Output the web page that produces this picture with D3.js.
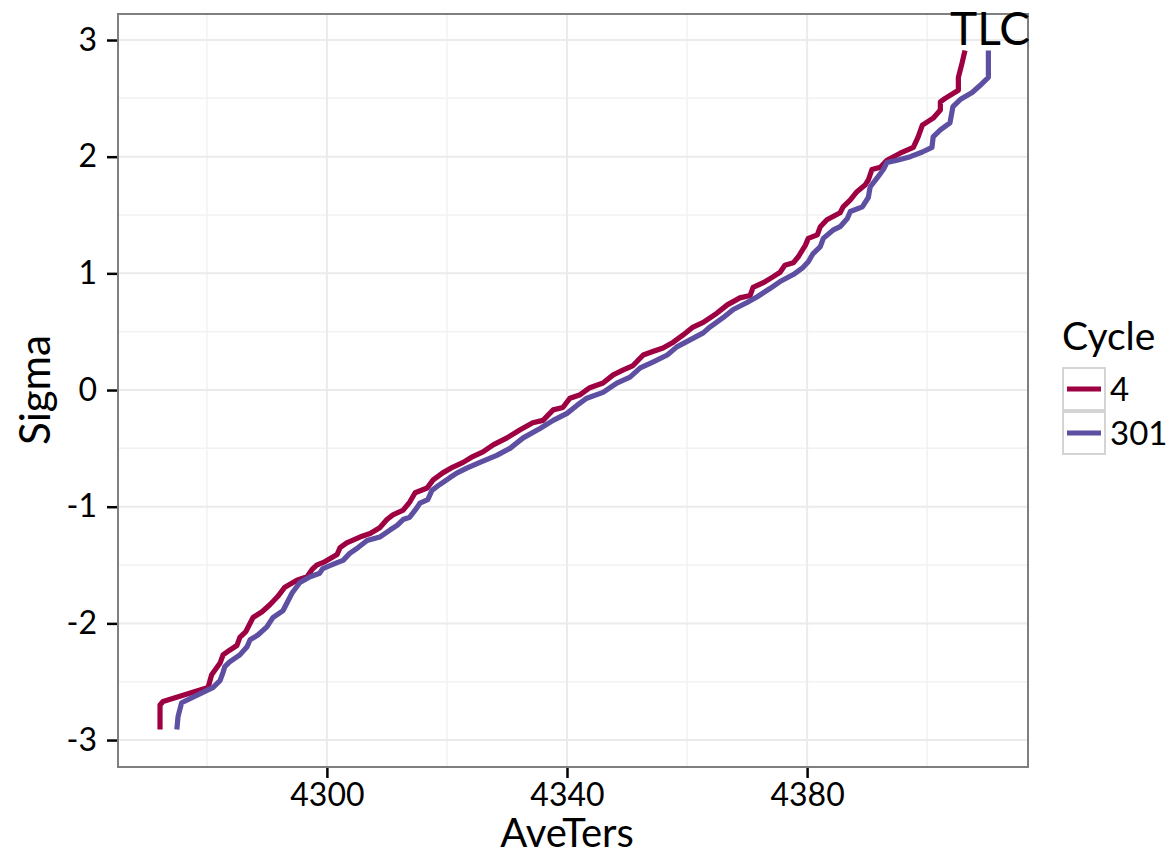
<!DOCTYPE html>
<html><head><meta charset="utf-8">
<script src="https://cdn.jsdelivr.net/npm/d3@7"></script>
<style>body{margin:0;background:#fff}svg{display:block}text{font-family:Lato,"Open Sans",sans-serif}</style>
</head><body><svg id="c" width="1176" height="856"></svg>
<script>
const seriesNames = ["4", "301"];
const seriesColors = ["#9E0142", "#5E4FA2"];
const cycle4X = [4272.2,4272.2,4272.7,4280.2,4280.8,4282.2,4282.7,4283.8,4285.0,4285.5,4286.5,4287.7,4289.2,4290.5,4291.8,4293.0,4295.0,4296.7,4297.5,4298.3,4299.7,4301.7,4302.2,4303.3,4305.5,4307.2,4308.8,4310.0,4311.0,4312.7,4313.8,4314.7,4316.7,4317.7,4319.3,4321.0,4322.7,4324.3,4326.0,4327.7,4330.0,4332.2,4334.3,4336.0,4337.7,4339.3,4340.5,4342.2,4343.8,4346.0,4347.7,4349.3,4351.0,4352.7,4354.3,4356.0,4357.7,4359.3,4361.0,4362.7,4365.0,4366.7,4368.8,4370.5,4371.0,4372.7,4374.3,4375.5,4376.3,4377.7,4378.5,4379.7,4380.2,4381.7,4382.2,4383.3,4385.5,4386.0,4387.2,4388.3,4389.7,4390.2,4390.8,4392.2,4393.3,4395.5,4397.7,4398.5,4399.2,4401.0,4402.2,4402.2,4403.0,4405.2,4405.2,4405.8,4406.3];
const cycle4Y = [-2.91,-2.70,-2.67,-2.55,-2.44,-2.34,-2.27,-2.23,-2.19,-2.12,-2.07,-1.95,-1.90,-1.84,-1.77,-1.69,-1.63,-1.60,-1.54,-1.50,-1.47,-1.41,-1.35,-1.31,-1.26,-1.23,-1.18,-1.11,-1.07,-1.03,-0.96,-0.88,-0.84,-0.77,-0.71,-0.66,-0.62,-0.57,-0.53,-0.47,-0.41,-0.34,-0.28,-0.26,-0.17,-0.15,-0.07,-0.04,0.02,0.06,0.13,0.17,0.21,0.30,0.33,0.36,0.41,0.47,0.54,0.58,0.66,0.73,0.79,0.81,0.88,0.92,0.97,1.01,1.07,1.09,1.14,1.24,1.30,1.33,1.40,1.46,1.52,1.57,1.63,1.70,1.76,1.80,1.89,1.91,1.97,2.03,2.08,2.17,2.27,2.33,2.40,2.47,2.50,2.57,2.68,2.80,2.91];
const cycle301X = [4275.0,4275.2,4275.8,4280.2,4281.0,4282.2,4282.7,4283.0,4283.8,4285.5,4286.7,4287.2,4288.5,4290.0,4291.0,4292.7,4293.3,4294.2,4295.5,4297.2,4298.8,4299.3,4301.7,4302.7,4303.8,4305.2,4306.7,4308.8,4310.5,4311.7,4312.7,4313.8,4314.7,4315.5,4316.8,4317.5,4318.8,4320.5,4321.7,4323.3,4325.5,4328.3,4330.5,4332.7,4335.5,4337.7,4340.0,4341.7,4343.3,4346.0,4348.3,4350.5,4352.2,4354.3,4356.7,4358.3,4360.5,4362.7,4363.8,4366.0,4367.7,4370.0,4371.7,4373.8,4375.5,4377.7,4379.3,4380.2,4381.0,4382.2,4382.7,4384.3,4385.5,4386.7,4387.2,4389.2,4390.2,4390.5,4391.7,4392.7,4393.3,4395.0,4397.2,4399.2,4400.8,4401.0,4402.2,4403.8,4404.3,4405.5,4407.5,4408.8,4410.2,4410.2];
const cycle301Y = [-2.91,-2.80,-2.68,-2.57,-2.55,-2.49,-2.42,-2.37,-2.33,-2.27,-2.20,-2.14,-2.10,-2.03,-1.95,-1.89,-1.83,-1.74,-1.65,-1.60,-1.57,-1.53,-1.48,-1.46,-1.40,-1.35,-1.29,-1.26,-1.20,-1.16,-1.11,-1.09,-1.03,-0.97,-0.94,-0.86,-0.81,-0.75,-0.71,-0.67,-0.62,-0.56,-0.50,-0.41,-0.33,-0.26,-0.20,-0.13,-0.07,-0.02,0.06,0.11,0.19,0.24,0.30,0.37,0.43,0.49,0.54,0.62,0.69,0.75,0.80,0.87,0.93,0.99,1.05,1.10,1.17,1.23,1.30,1.37,1.40,1.47,1.53,1.57,1.65,1.74,1.82,1.89,1.95,1.97,2.00,2.04,2.08,2.17,2.23,2.29,2.43,2.49,2.55,2.61,2.68,2.91];
const xTicks = [4300, 4340, 4380];
const xMinor = [4280, 4320, 4360, 4400];
const yTicks = [-3, -2, -1, 0, 1, 2, 3];
const yMinor = [-2.5, -1.5, -0.5, 0.5, 1.5, 2.5];
const annotation = "TLC";

const L = 118, R = 1028, T = 14, B = 767;
const x = d3.scaleLinear().domain([4265.2, 4416.8]).range([L, R]);
const y = d3.scaleLinear().domain([-3.231, 3.223]).range([B, T]);
const svg = d3.select("#c");

const grid = svg.append("g");
grid.selectAll(".xm").data(xMinor).join("line").attr("x1", d => x(d)).attr("x2", d => x(d)).attr("y1", T).attr("y2", B).attr("stroke", "#f2f2f2").attr("stroke-width", 1.5);
grid.selectAll(".ym").data(yMinor).join("line").attr("y1", d => y(d)).attr("y2", d => y(d)).attr("x1", L).attr("x2", R).attr("stroke", "#f2f2f2").attr("stroke-width", 1.5);
grid.selectAll(".xM").data(xTicks).join("line").attr("x1", d => x(d)).attr("x2", d => x(d)).attr("y1", T).attr("y2", B).attr("stroke", "#ebebeb").attr("stroke-width", 2);
grid.selectAll(".yM").data(yTicks).join("line").attr("y1", d => y(d)).attr("y2", d => y(d)).attr("x1", L).attr("x2", R).attr("stroke", "#ebebeb").attr("stroke-width", 2);

const series = [
  cycle4X.map((v, i) => [v, cycle4Y[i]]),
  cycle301X.map((v, i) => [v, cycle301Y[i]])
];
const line = d3.line().x(d => x(d[0])).y(d => y(d[1]));
series.forEach((s, i) => {
  svg.append("path").attr("d", line(s)).attr("fill", "none").attr("stroke", seriesColors[i]).attr("stroke-width", 5.2).attr("stroke-linejoin", "round");
});

svg.append("rect").attr("x", L).attr("y", T).attr("width", R - L).attr("height", B - T).attr("fill", "none").attr("stroke", "#7f7f7f").attr("stroke-width", 2);

const fmt = d => String(d);
const yAxis = svg.append("g").attr("transform", `translate(${L - 1},0)`).call(d3.axisLeft(y).tickValues(yTicks).tickSize(10).tickPadding(10).tickFormat(fmt));
const xAxis = svg.append("g").attr("transform", `translate(0,${B + 1})`).call(d3.axisBottom(x).tickValues(xTicks).tickSize(10).tickPadding(5).tickFormat(fmt));
[yAxis, xAxis].forEach(a => {
  a.select(".domain").remove();
  a.selectAll(".tick line").attr("stroke", "#000").attr("stroke-width", 2.5);
  a.selectAll(".tick text").attr("fill", "#000").style("font-size", "32px").style("font-family", "Lato");
});

svg.append("text").attr("x", 567).attr("y", 847).attr("text-anchor", "middle").style("font-size", "40px").text("AveTers");
svg.append("text").attr("transform", "translate(50,390) rotate(-90)").attr("text-anchor", "middle").style("font-size", "42px").text("Sigma");
svg.append("text").attr("x", 950).attr("y", 45).style("font-size", "46px").text(annotation);

const lg = svg.append("g");
lg.append("text").attr("x", 1062).attr("y", 350).style("font-size", "39px").text("Cycle");
seriesNames.forEach((n, i) => {
  const top = 368 + i * 44;
  lg.append("rect").attr("x", 1063).attr("y", top).attr("width", 42).attr("height", 42).attr("fill", "#fff").attr("stroke", "#d4d4d4").attr("stroke-width", 2);
  lg.append("line").attr("x1", 1067).attr("x2", 1101).attr("y1", top + 21).attr("y2", top + 21).attr("stroke", seriesColors[i]).attr("stroke-width", 5.2);
  lg.append("text").attr("x", 1110).attr("y", top + 33).style("font-size", "33px").text(n);
});
</script></body></html>
